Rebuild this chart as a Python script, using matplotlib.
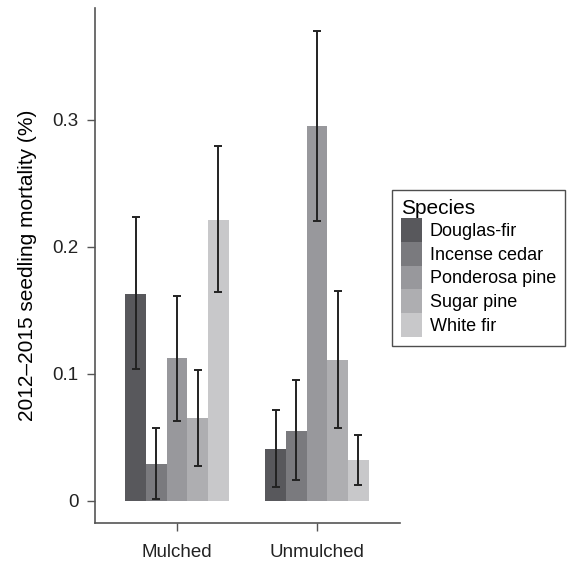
import matplotlib
matplotlib.use('Agg')
import matplotlib.pyplot as plt
from matplotlib.patches import Patch
import numpy as np

plt.rcParams['font.family'] = ['Liberation Sans', 'DejaVu Sans']

# data
treatments = ['Mulched', 'Unmulched']
species = ['Douglas-fir', 'Incense cedar', 'Ponderosa pine', 'Sugar pine', 'White fir']
colors = ['#58585c', '#7a7a7e', '#98989c', '#aeaeb1', '#c8c8ca']

# mean mortality, one list per species: [Mulched, Unmulched]
means = {
    'Douglas-fir':    [0.163, 0.041],
    'Incense cedar':  [0.029, 0.055],
    'Ponderosa pine': [0.112, 0.295],
    'Sugar pine':     [0.065, 0.111],
    'White fir':      [0.221, 0.032],
}
err_low = {
    'Douglas-fir':    [0.104, 0.011],
    'Incense cedar':  [0.001, 0.016],
    'Ponderosa pine': [0.063, 0.220],
    'Sugar pine':     [0.027, 0.057],
    'White fir':      [0.164, 0.012],
}
err_high = {
    'Douglas-fir':    [0.223, 0.071],
    'Incense cedar':  [0.057, 0.095],
    'Ponderosa pine': [0.161, 0.370],
    'Sugar pine':     [0.103, 0.165],
    'White fir':      [0.279, 0.052],
}

fig = plt.figure(figsize=(5.69, 5.63), dpi=100)
ax = fig.add_axes([0.167, 0.071, 0.536, 0.915])

x = np.arange(1, len(treatments) + 1)
width = 0.148
for i, sp in enumerate(species):
    pos = x + (i - 2) * width
    m = np.array(means[sp])
    lo = m - np.array(err_low[sp])
    hi = np.array(err_high[sp]) - m
    ax.bar(pos, m, width, color=colors[i], linewidth=0)
    ax.errorbar(pos, m, yerr=[lo, hi], fmt='none', ecolor='#222222',
                elinewidth=1.4, capsize=2.8, capthick=1.4)

ax.set_xlim(0.414, 2.593)
ax.set_ylim(-0.0176, 0.388)
ax.set_xticks(x)
ax.set_xticklabels(treatments, fontsize=13.5)
ax.set_yticks([0, 0.1, 0.2, 0.3])
ax.set_yticklabels(['0', '0.1', '0.2', '0.3'], fontsize=13.5)
ax.set_ylabel('2012\u20132015 seedling mortality (%)', fontsize=15, labelpad=11)

for s in ['top', 'right']:
    ax.spines[s].set_visible(False)
for s in ['left', 'bottom']:
    ax.spines[s].set_color('#555555')
    ax.spines[s].set_linewidth(1.2)
ax.tick_params(colors='#555555', labelcolor='#222222', length=6, width=1)
ax.tick_params(axis='x', pad=9)
ax.tick_params(axis='y', pad=6)

handles = [Patch(facecolor=c, edgecolor='none') for c in colors]
leg = fig.legend(handles, species, title='Species', loc='upper left',
                 bbox_to_anchor=(392 / 569, 1 - 190 / 563), borderaxespad=0,
                 fontsize=13, title_fontsize=15, frameon=True, fancybox=False,
                 edgecolor='#222222', handlelength=1.15, handleheight=1.65,
                 handletextpad=0.45, labelspacing=0.0, borderpad=0.5)
leg.get_frame().set_linewidth(1.0)
leg._legend_box.align = 'left'

fig.savefig('out.png', dpi=100)
